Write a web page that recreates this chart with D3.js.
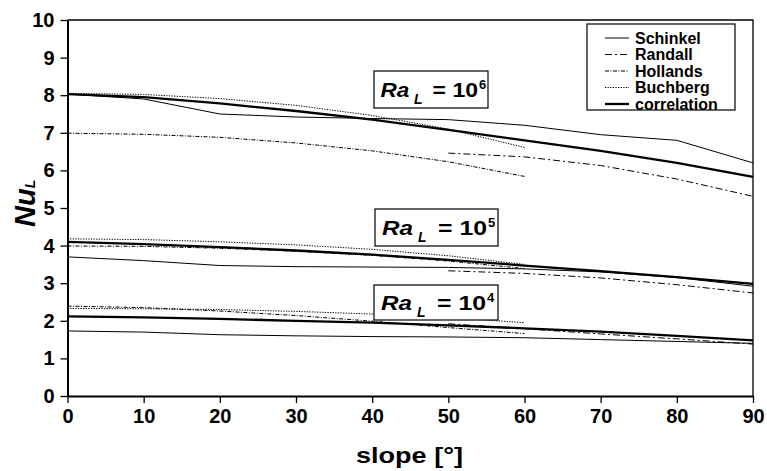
<!DOCTYPE html>
<html><head><meta charset="utf-8">
<script src="https://cdn.jsdelivr.net/npm/d3@7"></script>
<style>
html,body{margin:0;padding:0;background:#fff;}
svg{display:block;font-family:"Liberation Sans",Arial,sans-serif;}
</style></head>
<body>
<svg id="chart" width="767" height="471"></svg>
<script>
// ---- data ----
const slopes = [0,10,20,30,40,50,60,70,80,90];
const hollandsSlopes = [0,10,20,30,40,50,60];
const buchbergSlopes = [0,10,20,30,40,50,60];
const randallSlopes = [50,60,70,80,90];

const schinkel6 = [8.03,7.9,7.5,7.42,7.38,7.35,7.2,6.95,6.8,6.2];
const schinkel5 = [3.7,3.6,3.47,3.44,3.43,3.42,3.38,3.3,3.15,2.92];
const schinkel4 = [1.73,1.7,1.63,1.6,1.58,1.57,1.55,1.5,1.45,1.4];

const corr6 = [8.03,7.95,7.78,7.58,7.35,7.08,6.8,6.52,6.2,5.83];
const corr5 = [4.1,4.04,3.96,3.87,3.76,3.62,3.47,3.32,3.16,2.98];
const corr4 = [2.12,2.09,2.05,2.0,1.95,1.88,1.8,1.71,1.6,1.48];

const hollands6 = [6.99,6.96,6.88,6.73,6.52,6.23,5.84];
const hollands5 = [3.99,3.98,3.93,3.85,3.74,3.59,3.39];
const hollands4 = [2.39,2.35,2.26,2.14,1.99,1.82,1.66];

const buchberg6 = [8.05,8.02,7.91,7.73,7.46,7.1,6.61];
const buchberg5 = [4.18,4.16,4.1,4.02,3.9,3.73,3.5];
const buchberg4 = [2.33,2.32,2.3,2.25,2.18,2.09,1.95];

const randall6 = [6.46,6.36,6.13,5.77,5.31];
const randall5 = [3.33,3.26,3.14,2.96,2.74];
const randall4 = [1.92,1.79,1.65,1.52,1.38];

const xTicks = [0,10,20,30,40,50,60,70,80,90];
const yTicks = [0,1,2,3,4,5,6,7,8,9,10];
const legendNames = ["Schinkel","Randall","Hollands","Buchberg","correlation"];
const raExponents = ["6","5","4"];

// ---- drawing ----
const svg = d3.select("#chart");
const x = d3.scaleLinear().domain([0,90]).range([67.5,753]);
const y = d3.scaleLinear().domain([0,10]).range([396,20]);

const styles = {
  Schinkel:{w:1, dash:null},
  Randall:{w:1, dash:"7,3,2,3"},
  Hollands:{w:1, dash:"4,1.5,1,1.5"},
  Buchberg:{w:1, dash:"1.3,1.3"},
  correlation:{w:2.3, dash:null}
};

// plot frame (top/right)
svg.append("path").attr("d",`M${x(0)},${y(10)}H${x(90)}V${y(0)}`)
  .attr("fill","none").attr("stroke","#000").attr("stroke-width",1.3);

const line = d3.line().x(d=>x(d[0])).y(d=>y(d[1]));
function series(xs, vals, name){
  const st = styles[name];
  svg.append("path").datum(xs.map((s,i)=>[s,vals[i]]))
    .attr("d",line).attr("fill","none").attr("stroke","#000")
    .attr("stroke-width",st.w).attr("stroke-dasharray",st.dash);
}
[[slopes,schinkel6,"Schinkel"],[slopes,schinkel5,"Schinkel"],[slopes,schinkel4,"Schinkel"],
 [hollandsSlopes,hollands6,"Hollands"],[hollandsSlopes,hollands5,"Hollands"],[hollandsSlopes,hollands4,"Hollands"],
 [buchbergSlopes,buchberg6,"Buchberg"],[buchbergSlopes,buchberg5,"Buchberg"],[buchbergSlopes,buchberg4,"Buchberg"],
 [randallSlopes,randall6,"Randall"],[randallSlopes,randall5,"Randall"],[randallSlopes,randall4,"Randall"],
 [slopes,corr6,"correlation"],[slopes,corr5,"correlation"],[slopes,corr4,"correlation"]
].forEach(a=>series(...a));

// axes
const xAxis = svg.append("g").attr("transform",`translate(0,${y(0)})`)
  .call(d3.axisBottom(x).tickValues(xTicks).tickSize(7).tickPadding(6).tickSizeOuter(0));
const yAxis = svg.append("g").attr("transform",`translate(${x(0)},0)`)
  .call(d3.axisLeft(y).tickValues(yTicks).tickSize(7).tickPadding(6).tickSizeOuter(0));
[xAxis,yAxis].forEach(g=>{
  g.select(".domain").attr("stroke","#000").attr("stroke-width",2);
  g.selectAll(".tick line").attr("stroke","#000").attr("stroke-width",1.3);
  g.selectAll(".tick text").attr("fill","#000").attr("font-size",20)
    .attr("font-weight","bold")
    .attr("font-family","Liberation Sans, Arial, sans-serif");
});
xAxis.selectAll(".tick text").attr("dy","0.71em");

// axis titles
svg.append("text").attr("x",409.5).attr("y",463).attr("text-anchor","middle")
  .attr("font-size",22).attr("font-weight","bold")
  .attr("textLength",107).attr("lengthAdjust","spacingAndGlyphs").text("slope [°]");
const yt = svg.append("text").attr("transform","translate(35,227) rotate(-90)")
  .attr("font-weight","bold");
yt.append("tspan").attr("font-size",29).attr("font-style","italic").text("Nu");
yt.append("tspan").attr("font-size",14).attr("font-style","italic").text("L");

// legend
const lg = svg.append("g");
lg.append("rect").attr("x",587).attr("y",24).attr("width",148).attr("height",86)
  .attr("fill","#fff").attr("stroke","#000").attr("stroke-width",1.2);
legendNames.forEach((n,i)=>{
  const cy = 38 + i*16.5;
  const st = styles[n];
  lg.append("line").attr("x1",605).attr("x2",629).attr("y1",cy).attr("y2",cy)
    .attr("stroke","#000").attr("stroke-width",st.w).attr("stroke-dasharray",st.dash);
  lg.append("text").attr("x",635).attr("y",cy+5.5).attr("font-size",16)
    .attr("font-weight","bold").text(n);
});

// Ra labels
const raBoxes = [
  {x0:374, y0:71, w:114, h:37, s:0.93},
  {x0:375, y0:209, w:123, h:37, s:1},
  {x0:374, y0:285, w:124, h:35, s:1}
];
raBoxes.forEach((b,i)=>{
  const g = svg.append("g").attr("transform",`translate(${b.x0},${b.y0})`);
  g.append("rect").attr("width",b.w).attr("height",b.h).attr("fill","#fff")
    .attr("stroke","#000").attr("stroke-width",1.2);
  const base = b.h/2 + 7;
  g.append("text").attr("x",7*b.s).attr("y",base).attr("font-size",20)
    .attr("font-weight","bold").attr("font-style","italic")
    .attr("textLength",31*b.s).attr("lengthAdjust","spacingAndGlyphs").text("Ra");
  g.append("text").attr("x",43*b.s).attr("y",base+7).attr("font-size",14)
    .attr("font-weight","bold").attr("font-style","italic").text("L");
  g.append("text").attr("x",63*b.s).attr("y",base).attr("font-size",20)
    .attr("font-weight","bold")
    .attr("textLength",49*b.s).attr("lengthAdjust","spacingAndGlyphs").text("= 10");
  g.append("text").attr("x",113*b.s).attr("y",base-8).attr("font-size",13)
    .attr("font-weight","bold").text(raExponents[i]);
});
</script>
</body></html>
